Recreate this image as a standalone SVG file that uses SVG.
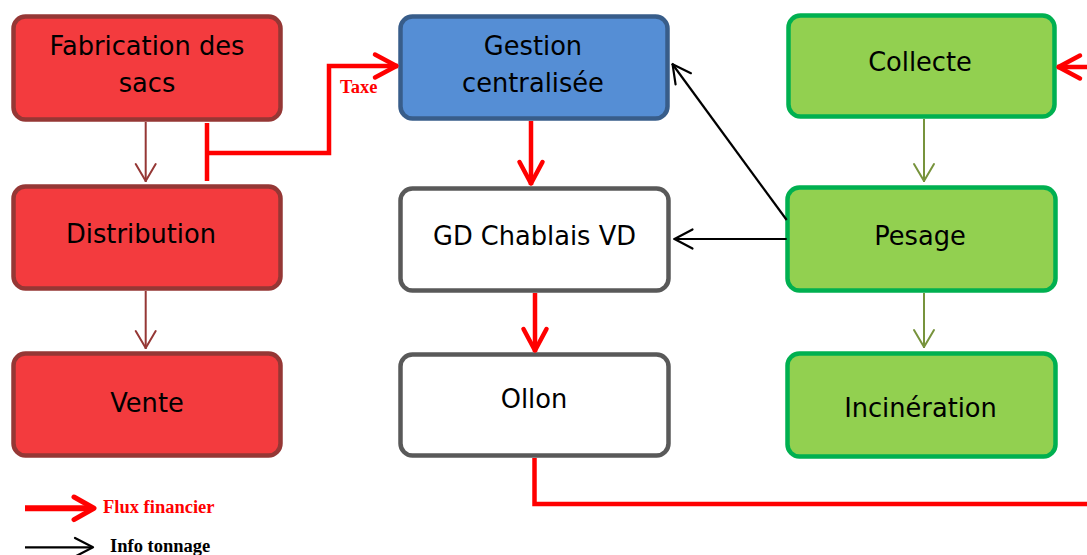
<svg xmlns="http://www.w3.org/2000/svg" width="1087" height="555" viewBox="0 0 1087 555">
<style>
.box{stroke-width:4.5}
.red{fill:#F33B3E;stroke:#953735}
.blue{fill:#558ED5;stroke:#385D8A}
.green{fill:#92D050;stroke:#00B050}
.white{fill:#FFFFFF;stroke:#595959}
.t{font-family:"DejaVu Sans","Liberation Sans",sans-serif;font-size:25.7px;fill:#000;text-anchor:middle}
.lbl{font-family:"Liberation Serif","Times New Roman",serif;font-weight:bold;font-size:18.5px}
.c{fill:none}
</style>
<defs>
<marker id="mRed" markerUnits="userSpaceOnUse" markerWidth="60" markerHeight="60" orient="auto" overflow="visible">
<path d="M-23,-11.5 L-1.5,0 L-23,11.5" fill="none" stroke="#FF0000" stroke-width="4.5" stroke-linejoin="round" stroke-linecap="round"/>
</marker>
<marker id="mBlack" markerUnits="userSpaceOnUse" markerWidth="60" markerHeight="60" orient="auto" overflow="visible">
<path d="M-19,-9.5 L-1,0 L-19,9.5" fill="none" stroke="#000" stroke-width="2.2" stroke-linejoin="round" stroke-linecap="round"/>
</marker>
<marker id="mBrown" markerUnits="userSpaceOnUse" markerWidth="60" markerHeight="60" orient="auto" overflow="visible">
<path d="M-18,-10 L-1,0 L-18,10" fill="none" stroke="#953735" stroke-width="2" stroke-linejoin="round" stroke-linecap="round"/>
</marker>
<marker id="mGreen" markerUnits="userSpaceOnUse" markerWidth="60" markerHeight="60" orient="auto" overflow="visible">
<path d="M-18,-10 L-1,0 L-18,10" fill="none" stroke="#77933C" stroke-width="2" stroke-linejoin="round" stroke-linecap="round"/>
</marker>
</defs>

<g id="fabrication">
<rect class="box red" x="13.5" y="16.5" width="267" height="103" rx="12"/>
<text class="t" x="147" y="55">Fabrication des</text>
<text class="t" x="147" y="92">sacs</text>
</g>
<g id="distribution">
<rect class="box red" x="13.5" y="186.5" width="267" height="102" rx="12"/>
<text class="t" x="141" y="243">Distribution</text>
</g>
<g id="vente">
<rect class="box red" x="13.5" y="353.5" width="267" height="102" rx="12"/>
<text class="t" x="147" y="412">Vente</text>
</g>
<g id="gestion">
<rect class="box blue" x="400.5" y="16.5" width="267" height="102" rx="12"/>
<text class="t" x="533" y="55">Gestion</text>
<text class="t" x="533" y="92">centralisée</text>
</g>
<g id="gd-chablais">
<rect class="box white" x="400.5" y="188.5" width="268" height="102" rx="12"/>
<text class="t" x="534.5" y="245">GD Chablais VD</text>
</g>
<g id="ollon">
<rect class="box white" x="400.5" y="354.5" width="268" height="101" rx="12"/>
<text class="t" x="534" y="408">Ollon</text>
</g>
<g id="collecte">
<rect class="box green" x="788.5" y="15.5" width="266" height="101" rx="12"/>
<text class="t" x="920" y="71">Collecte</text>
</g>
<g id="pesage">
<rect class="box green" x="787.5" y="187.5" width="268" height="103" rx="12"/>
<text class="t" x="920" y="245">Pesage</text>
</g>
<g id="incineration">
<rect class="box green" x="787.5" y="353.5" width="268" height="103" rx="12"/>
<text class="t" x="920.5" y="417">Incinération</text>
</g>

<g id="connectors">
<line class="c" x1="145.7" y1="122" x2="145.7" y2="182" stroke="#953735" stroke-width="2" marker-end="url(#mBrown)"/>
<line class="c" x1="145.7" y1="291" x2="145.7" y2="349" stroke="#953735" stroke-width="2" marker-end="url(#mBrown)"/>
<line class="c" x1="924" y1="119" x2="924" y2="182" stroke="#77933C" stroke-width="2" marker-end="url(#mGreen)"/>
<line class="c" x1="924" y1="293" x2="924" y2="348" stroke="#77933C" stroke-width="2" marker-end="url(#mGreen)"/>
<path class="c" d="M207,123 V181 M207,153 H329 V66 H398" stroke="#FF0000" stroke-width="4.5" marker-end="url(#mRed)"/>
<line class="c" x1="531" y1="121" x2="531" y2="185" stroke="#FF0000" stroke-width="4.5" marker-end="url(#mRed)"/>
<line class="c" x1="535" y1="293" x2="535" y2="352" stroke="#FF0000" stroke-width="4.5" marker-end="url(#mRed)"/>
<path class="c" d="M534.5,458 V504 H1100 V67 H1057" stroke="#FF0000" stroke-width="4.5" marker-end="url(#mRed)"/>
<line class="c" x1="786.7" y1="220" x2="672" y2="63.5" stroke="#000" stroke-width="2.2" marker-end="url(#mBlack)"/>
<line class="c" x1="786.7" y1="239" x2="673.5" y2="239" stroke="#000" stroke-width="2.2" marker-end="url(#mBlack)"/>
<text class="lbl" x="340" y="93" fill="#FF0000">Taxe</text>
</g>

<g id="legend">
<path d="M25,508.3 H92" fill="none" stroke="#FF0000" stroke-width="6"/>
<path d="M74,497 L94,508.3 L74,519.6" fill="none" stroke="#FF0000" stroke-width="5" stroke-linejoin="round" stroke-linecap="round"/>
<text class="lbl" x="103" y="513" fill="#FF0000">Flux financier</text>
<path d="M25,547.3 H92" fill="none" stroke="#000" stroke-width="2.2"/>
<path d="M75,538 L93,547.3 L75,556.6" fill="none" stroke="#000" stroke-width="2.2" stroke-linejoin="round" stroke-linecap="round"/>
<text class="lbl" x="110" y="552" fill="#000">Info tonnage</text>
</g>
</svg>
